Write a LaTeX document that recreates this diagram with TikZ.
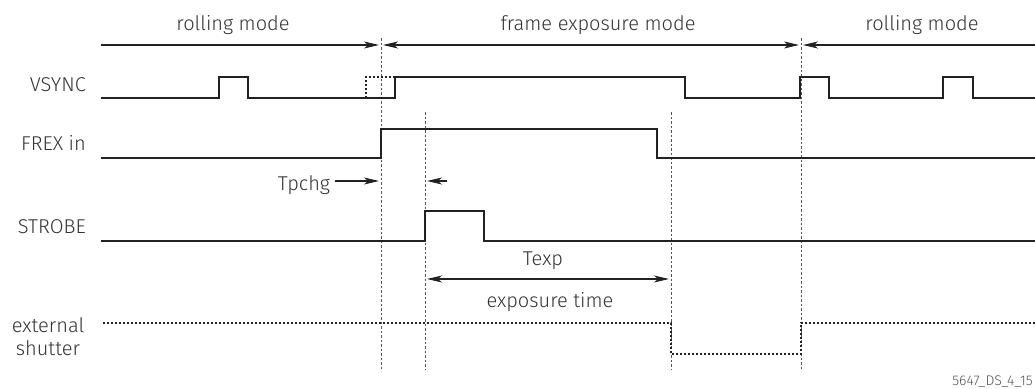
\documentclass[tikz,border=0pt]{standalone}
\usepackage{fontspec}
\setmainfont{Fira Sans}[UprightFont=* Light]
\usetikzlibrary{arrows.meta}
\definecolor{sig}{HTML}{222222}
\definecolor{txt}{HTML}{333333}
\definecolor{guide}{HTML}{555555}
\tikzset{
  lbl/.style={font=\fontsize{20}{23}\selectfont, text=txt, inner sep=0pt},
  sigline/.style={draw=sig, line width=2.6pt, line join=miter},
  shut/.style={draw=sig, line width=2.8pt, dash pattern=on 2.4pt off 1.6pt},
  guideline/.style={draw=guide, line width=0.9pt, dash pattern=on 2.5pt off 2pt},
  dim/.style={draw=sig, line width=1.1pt},
  tip/.style={-{Stealth[length=15pt,width=7pt,inset=4pt]}},
  tips/.style={{Stealth[length=15pt,width=7pt,inset=4pt]}-{Stealth[length=15pt,width=7pt,inset=4pt]}},
  ltip/.style={{Stealth[length=15pt,width=7pt,inset=4pt]}-},
}
\begin{document}
\begin{tikzpicture}[x=1pt,y=-1pt]
\useasboundingbox (0,0) rectangle (1035,388);

% guide lines
\coordinate (g1t) at (381,38);  \coordinate (g1b) at (381,370);
\coordinate (g2t) at (425,112); \coordinate (g2b) at (425,370);
\coordinate (g3t) at (671,112); \coordinate (g3b) at (671,370);
\coordinate (g4t) at (801,38);  \coordinate (g4b) at (801,370);
\draw[guideline] (g1t) -- (g1b);
\draw[guideline] (g2t) -- (g2b);
\draw[guideline] (g3t) -- (g3b);
\draw[guideline] (g4t) -- (g4b);

% mode arrows
\coordinate (m0) at (101,45);
\coordinate (m1a) at (379,45);
\coordinate (m1b) at (383,45);
\coordinate (m2a) at (799,45);
\coordinate (m2b) at (803,45);
\coordinate (m3) at (1035,45);
\draw[dim,tip] (m0) -- (m1a);
\draw[dim,tips] (m1b) -- (m2a);
\draw[dim,ltip] (m2b) -- (m3);
\node[lbl, anchor=base] (rm1) at (233,30) {rolling mode};
\node[lbl, anchor=base] (fem) at (598,30) {frame exposure mode};
\node[lbl, anchor=base] (rm2) at (922,30) {rolling mode};

% signal labels
\node[lbl, anchor=base east] (lv) at (86,91) {VSYNC};
\node[lbl, anchor=base east] (lf) at (86,150) {FREX in};
\node[lbl, anchor=base east] (ls) at (86,233) {STROBE};
\node[lbl, align=center, font=\fontsize{20}{23}\selectfont] (le) at (48,337) {external\\shutter};

% VSYNC
\draw[sigline] (101,98) -| (219,77) -| (248,98) -| (395,77) -| (685,98) -| (800,77) -| (829,98) -| (943,77) -| (973,98) -- (1035,98);
\draw[shut] (366,98) -- (366,77) -- (395,77);

% FREX in
\draw[sigline] (101,158) -| (381,129) -| (657,158) -- (1035,158);

% STROBE
\draw[sigline] (101,241) -| (425,211) -| (484,241) -- (1035,241);

% external shutter
\draw[shut] (103,323) -| (671,354) -| (801,323) -- (1035,323);

% Tpchg
\node[lbl, anchor=base] (tp) at (304,190) {Tpchg};
\coordinate (tpa) at (379,181);
\draw[dim,tip] (tp.east |- tpa) ++(5,0) coordinate (tps) -- (tpa);
\coordinate (tpb) at (427,181);
\coordinate (tpc) at (447,181);
\draw[dim,tip] (tpc) -- (tpb);

% Texp
\coordinate (te1) at (427,279);
\coordinate (te2) at (669,279);
\draw[dim,tips] (te1) -- (te2);
\node[lbl, anchor=base] (texp) at (543,265) {Texp};
\node[lbl, anchor=base] (etime) at (550,307) {exposure time};

% footer
\node[font=\fontsize{14}{16}\selectfont, text=guide, inner sep=0pt, anchor=base east] (foot) at (1033,385) {5647\_DS\_4\_15};
\end{tikzpicture}
\end{document}
